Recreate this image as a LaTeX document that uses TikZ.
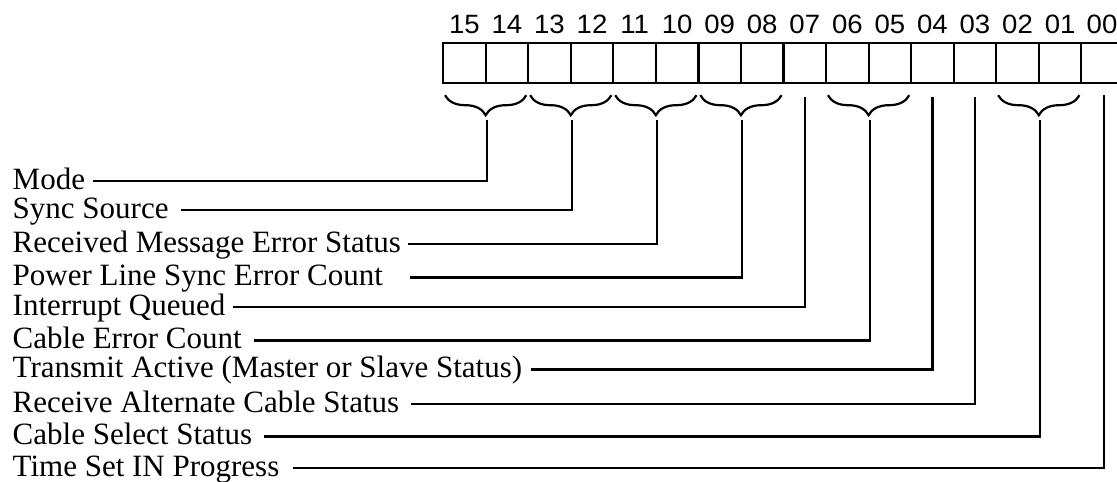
\documentclass[tikz,border=0pt]{standalone}
\usepackage{fontspec}
\setmainfont{Liberation Serif}
\newfontfamily\digitfont{Liberation Sans}[FakeStretch=1.04]
\usetikzlibrary{decorations.pathreplacing}
\tikzset{
  cell/.style={draw, line width=2.2pt, minimum width=42.55pt, minimum height=40pt, inner sep=0pt, anchor=north west},
  bitnum/.style={font=\digitfont\fontsize{26.5pt}{28pt}\selectfont, anchor=base, inner sep=0pt},
  lbl/.style={font=\fontsize{31pt}{34pt}\selectfont, anchor=base west, inner sep=0pt},
  wire/.style={line width=2.2pt},
  bracemark/.style={decorate, decoration={brace, amplitude=20pt, mirror}, line width=2.2pt},
}
\begin{document}
\begin{tikzpicture}[x=1pt,y=-1pt]
\useasboundingbox (0,0) rectangle (1117,482);
% register cells
\foreach \i in {0,...,15}{
  \pgfmathtruncatemacro{\bit}{15-\i}
  \node[cell] (b\bit) at ({442+\i*42.55},42) {};
}
% bit numbers
\foreach \bit/\txt in {15/15,14/14,13/13,12/12,11/11,10/10,9/09,8/08,7/07,6/06,5/05,4/04,3/03,2/02,1/01}{
  \node[bitnum] (n\bit) at (b\bit.center |- 0,33.3) {\txt};
}
\node[bitnum] (n0) at (1102,33.3) {00};
% braces
\draw[bracemark] ([shift={(3,11)}]b15.south west) -- ([shift={(-3,11)}]b14.south east);
\draw[bracemark] ([shift={(3,11)}]b13.south west) -- ([shift={(-3,11)}]b12.south east);
\draw[bracemark] ([shift={(3,11)}]b11.south west) -- ([shift={(-3,11)}]b10.south east);
\draw[bracemark] ([shift={(3,11)}]b9.south west) -- ([shift={(-3,11)}]b8.south east);
\draw[bracemark] ([shift={(3,11)}]b6.south west) -- ([shift={(-3,11)}]b5.south east);
\draw[bracemark] ([shift={(3,11)}]b2.south west) -- ([shift={(-3,11)}]b1.south east);
% connector start points below braces / bits
\coordinate (t1) at ([shift={(0,36)}]b15.south east);
\coordinate (t2) at ([shift={(0,36)}]b13.south east);
\coordinate (t3) at ([shift={(0,36)}]b11.south east);
\coordinate (t4) at ([shift={(0,36)}]b9.south east);
\coordinate (t5) at ([shift={(0,13)}]b7.south);
\coordinate (t6) at ([shift={(0,36)}]b6.south east);
\coordinate (t7) at ([shift={(0,13)}]b4.south);
\coordinate (t8) at ([shift={(0,13)}]b3.south);
\coordinate (t9) at ([shift={(0,36)}]b2.south east);
\coordinate (t10) at (1104,95);
% labels
\node[lbl] (l1) at (12.5,189) {Mode};
\node[lbl] (l2) at (12.5,218) {Sync Source};
\node[lbl] (l3) at (12.5,252.3) {Received Message Error Status};
\node[lbl] (l4) at (12.5,285.5) {Power Line Sync Error Count};
\node[lbl] (l5) at (12.5,315) {Interrupt Queued};
\node[lbl] (l6) at (12.5,348.5) {Cable Error Count};
\node[lbl] (l7) at (12.5,377.5) {Transmit Active (Master or Slave Status)};
\node[lbl] (l8) at (12.5,412.3) {Receive Alternate Cable Status};
\node[lbl] (l9) at (12.5,444.5) {Cable Select Status};
\node[lbl] (l10) at (12.5,476.3) {Time Set IN Progress};
% connectors
\draw[wire] ([shift={(8,-8)}]l1.base east) -| (t1);
\draw[wire] ([shift={(12.5,-8)}]l2.base east) -| (t2);
\draw[wire] ([shift={(6.5,-8)}]l3.base east) -| (t3);
\draw[wire] ([shift={(27,-8)}]l4.base east) -| (t4);
\draw[wire] ([shift={(7,-8)}]l5.base east) -| (t5);
\draw[wire] ([shift={(12.5,-8)}]l6.base east) -| (t6);
\draw[wire] ([shift={(9,-8)}]l7.base east) -| (t7);
\draw[wire] ([shift={(12,-8)}]l8.base east) -| (t8);
\draw[wire] ([shift={(12,-8)}]l9.base east) -| (t9);
\draw[wire] ([shift={(13,-8)}]l10.base east) -| (t10);
\end{tikzpicture}
\end{document}
